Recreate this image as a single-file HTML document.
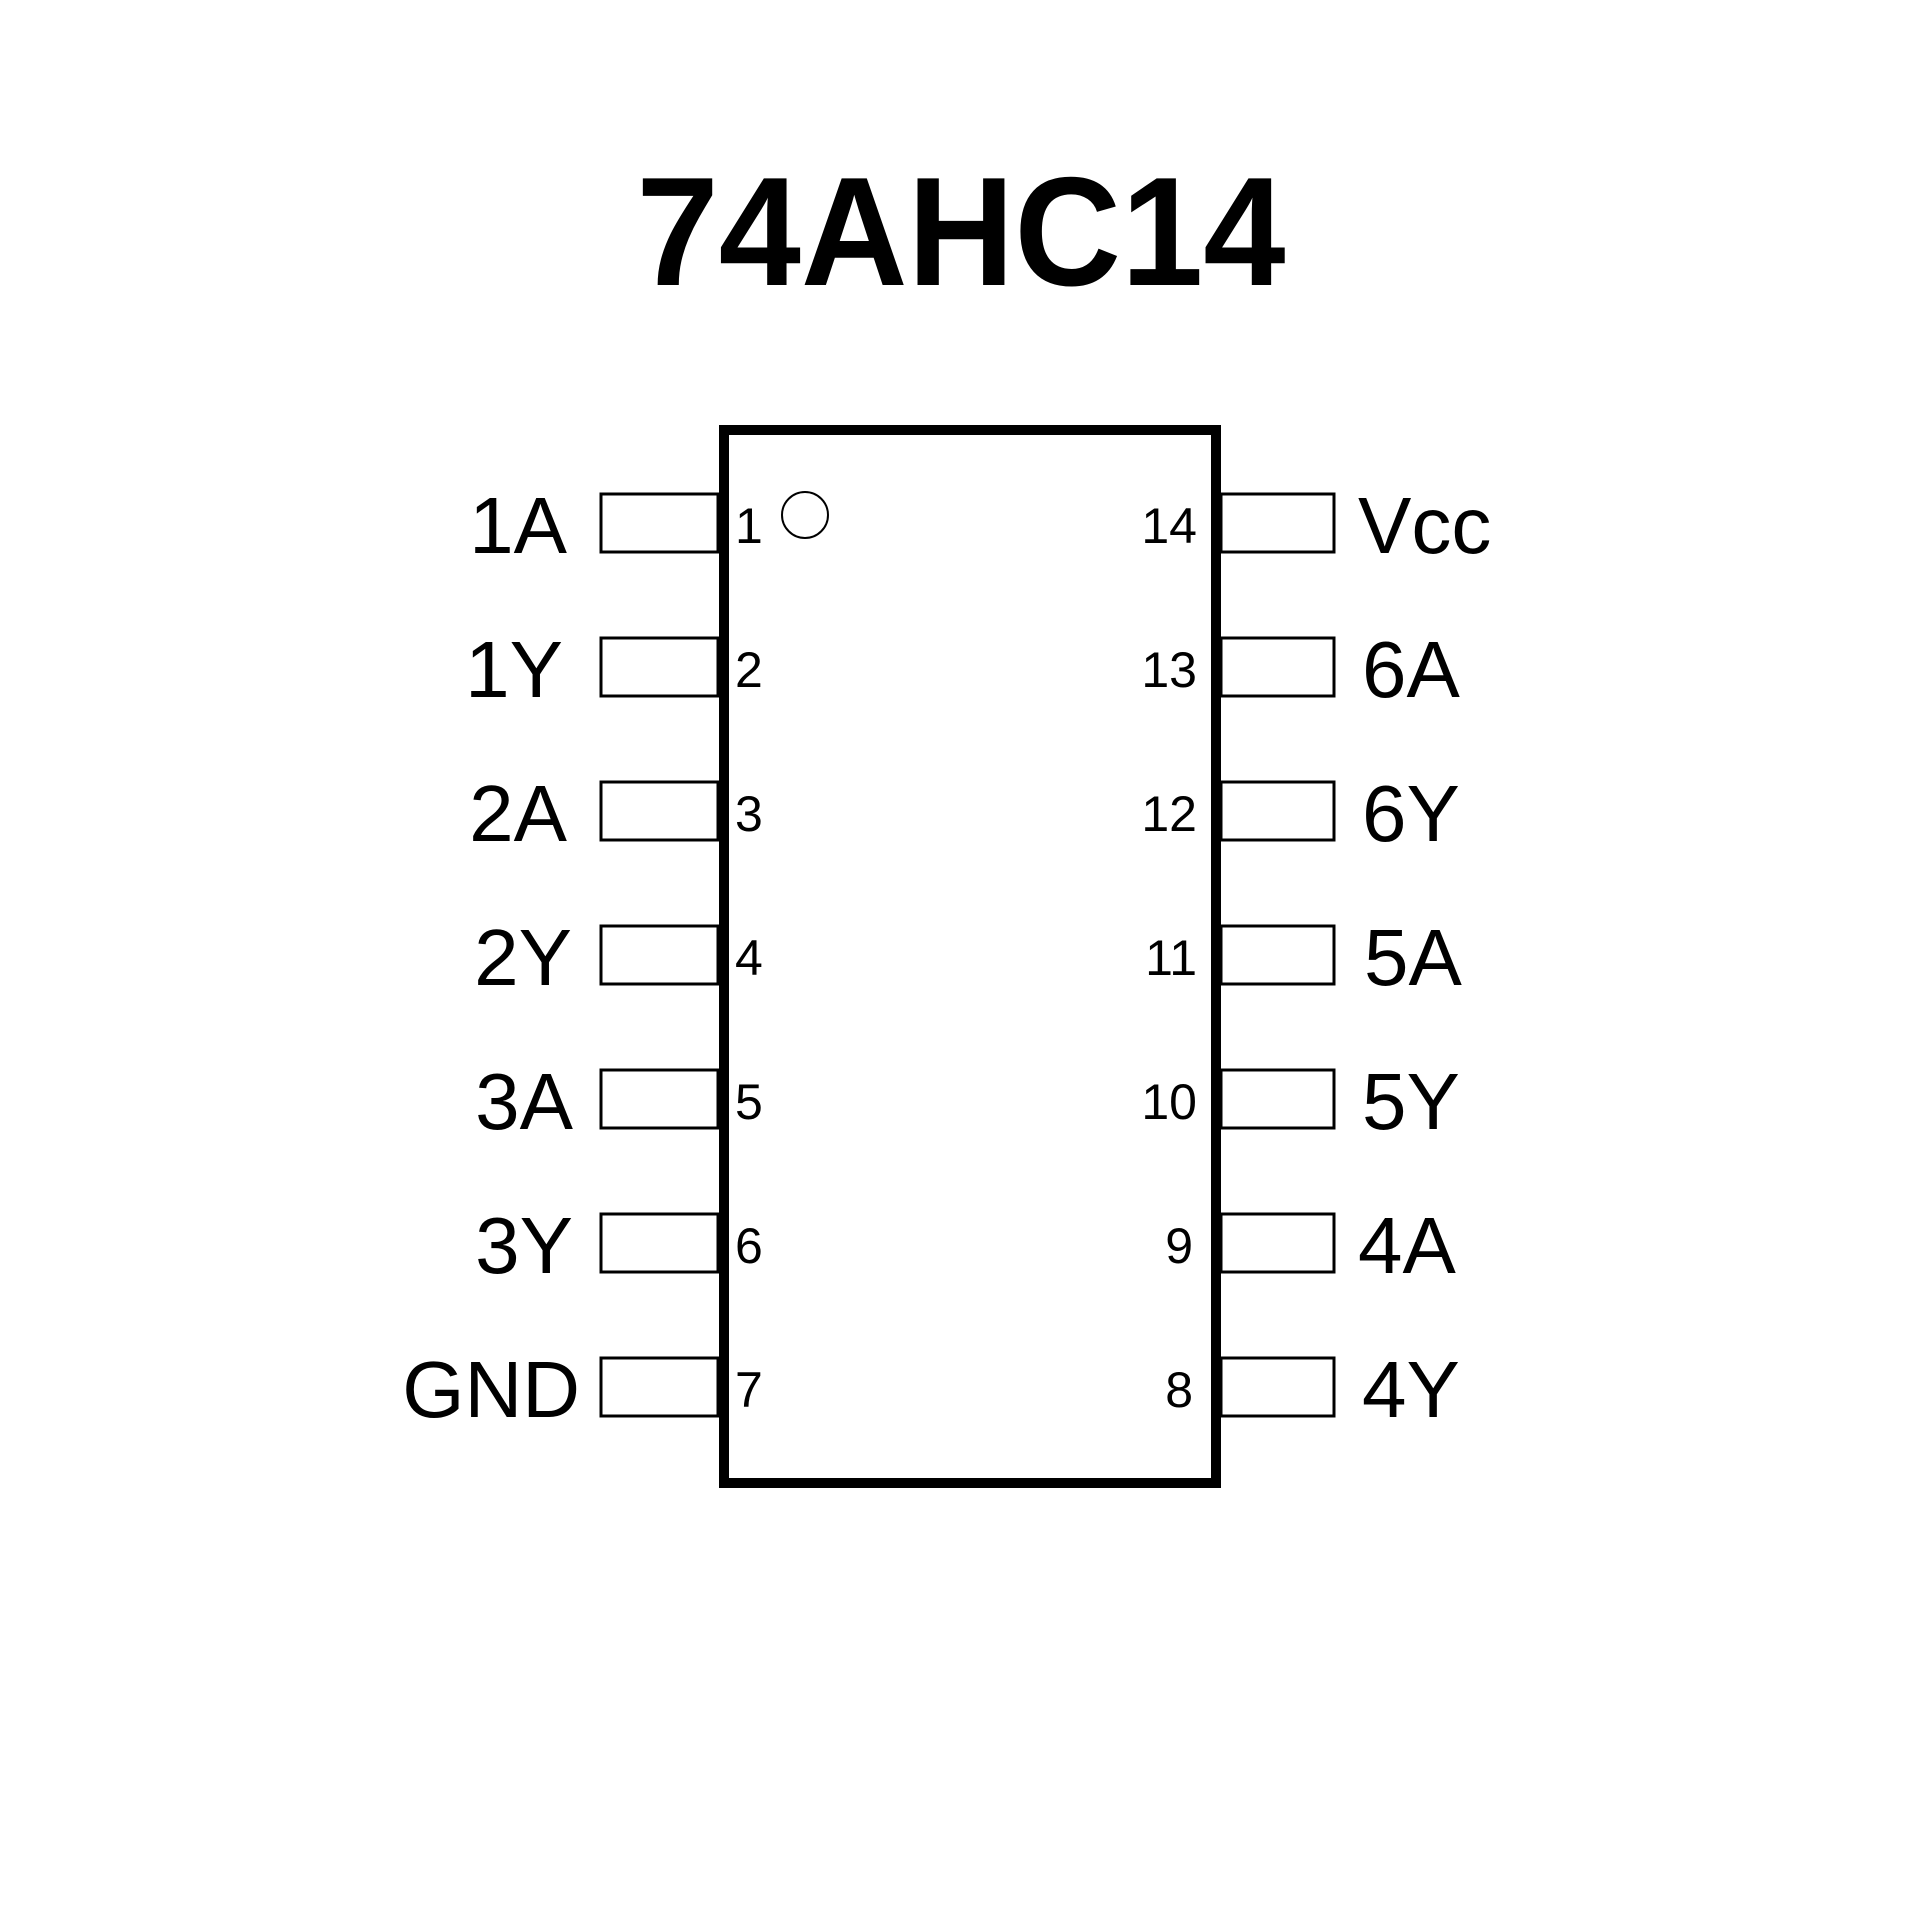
<!DOCTYPE html>
<html><head><style>html,body{margin:0;padding:0;background:#fff}</style></head>
<body>
<svg width="1920" height="1920" viewBox="0 0 1920 1920" xmlns="http://www.w3.org/2000/svg">
<rect width="1920" height="1920" fill="#fff"/>
<text x="961" y="285" font-family="Liberation Sans, sans-serif" font-weight="bold" font-size="155" text-anchor="middle" textLength="649" lengthAdjust="spacingAndGlyphs">74AHC14</text>
<rect x="724" y="430" width="492" height="1053" fill="none" stroke="#000" stroke-width="10"/>
<circle cx="805" cy="515" r="23" fill="none" stroke="#000" stroke-width="2"/>
<g fill="none" stroke="#000" stroke-width="3">
<rect x="601" y="494" width="117" height="58"/><rect x="601" y="638" width="117" height="58"/>
<rect x="601" y="782" width="117" height="58"/><rect x="601" y="926" width="117" height="58"/>
<rect x="601" y="1070" width="117" height="58"/><rect x="601" y="1214" width="117" height="58"/>
<rect x="601" y="1358" width="117" height="58"/>
<rect x="1221" y="494" width="113" height="58"/><rect x="1221" y="638" width="113" height="58"/>
<rect x="1221" y="782" width="113" height="58"/><rect x="1221" y="926" width="113" height="58"/>
<rect x="1221" y="1070" width="113" height="58"/><rect x="1221" y="1214" width="113" height="58"/>
<rect x="1221" y="1358" width="113" height="58"/>
</g>
<g font-family="Liberation Sans, sans-serif" font-size="80" text-anchor="end">
<text x="567" y="553">1A</text><text x="563" y="697">1Y</text>
<text x="567" y="841">2A</text><text x="572" y="985">2Y</text>
<text x="573" y="1129">3A</text><text x="573" y="1273">3Y</text>
<text x="580" y="1417">GND</text>
</g>
<g font-family="Liberation Sans, sans-serif" font-size="80">
<text x="1358" y="553">Vcc</text><text x="1362" y="697">6A</text>
<text x="1362" y="841">6Y</text><text x="1364" y="985">5A</text>
<text x="1362" y="1129">5Y</text><text x="1358" y="1273">4A</text>
<text x="1362" y="1417">4Y</text>
</g>
<g font-family="Liberation Sans, sans-serif" font-size="50">
<text x="735" y="543">1</text><text x="735" y="687">2</text><text x="735" y="831">3</text>
<text x="735" y="975">4</text><text x="735" y="1119">5</text><text x="735" y="1263">6</text>
<text x="735" y="1407">7</text>
</g>
<g font-family="Liberation Sans, sans-serif" font-size="50" text-anchor="end">
<text x="1197" y="543">14</text><text x="1197" y="687">13</text><text x="1197" y="831">12</text>
<text x="1197" y="975">11</text><text x="1197" y="1119">10</text><text x="1193" y="1263">9</text>
<text x="1193" y="1407">8</text>
</g>
</svg>
</body></html>
